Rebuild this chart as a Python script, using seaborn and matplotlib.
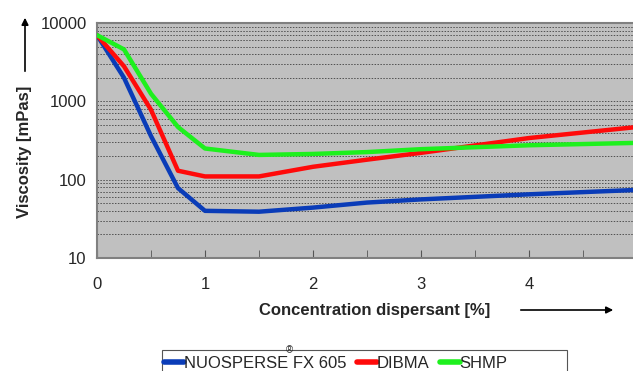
import matplotlib
matplotlib.use("Agg")
import matplotlib.pyplot as plt
import matplotlib.ticker as mticker
from matplotlib.patches import FancyArrowPatch, Rectangle
import pandas as pd
import seaborn as sns

# concentration dispersant [%]
conc = [0, 0.25, 0.5, 0.75, 1.0, 1.5, 2.0, 2.5, 3.0, 4.0, 5.0]

# viscosity [mPas] per dispersant
nuosperse = [7000, 2000, 360, 78, 40, 39, 44, 51, 56, 65, 74]
dibma = [7000, 2800, 780, 130, 110, 110, 146, 180, 220, 340, 470]
shmp = [7000, 4600, 1250, 470, 250, 207, 213, 225, 245, 275, 295]

series_names = ["NUOSPERSE FX 605", "DIBMA", "SHMP"]
series_colors = ["#0a3cb8", "#ff0a0a", "#1ef01e"]

rows = []
for name, vals in zip(series_names, [nuosperse, dibma, shmp]):
    for x, v in zip(conc, vals):
        rows.append({"conc": x, "viscosity": v, "series": name})
df = pd.DataFrame(rows)

sns.set_style("white")
plt.rcParams["font.family"] = ["Liberation Sans", "DejaVu Sans"]

fig = plt.figure(figsize=(6.33, 3.71), dpi=100)
ax = fig.add_axes([97 / 633, 1 - 258 / 371, 540 / 633, 235 / 371])
ax.set_facecolor("#c0c0c0")

sns.lineplot(data=df, x="conc", y="viscosity", hue="series", palette=series_colors,
             hue_order=series_names, estimator=None, sort=True, linewidth=3.2,
             ax=ax, zorder=3)

ax.set_yscale("log")
ax.set_ylim(10, 10000)
ax.set_xlim(0, 5)
ax.xaxis.set_major_locator(mticker.MultipleLocator(1))
ax.xaxis.set_minor_locator(mticker.MultipleLocator(0.5))
ax.xaxis.set_major_formatter(mticker.FormatStrFormatter("%d"))
ax.yaxis.set_major_formatter(mticker.FuncFormatter(lambda v, p: f"{int(v)}"))
ax.yaxis.set_minor_formatter(mticker.NullFormatter())
ax.yaxis.set_minor_locator(mticker.LogLocator(base=10, subs=range(2, 10)))

ax.grid(True, axis="y", which="both", color="#505050", linestyle=(0, (1.5, 1.5)), linewidth=0.7)
ax.set_axisbelow(True)
ax.tick_params(axis="x", which="both", direction="in", length=6, color="#555555",
               labelsize=12, pad=14, bottom=True)
ax.tick_params(axis="y", which="both", left=False, labelsize=12, pad=4)

for side in ["left", "bottom", "top"]:
    ax.spines[side].set_color("#808080")
    ax.spines[side].set_linewidth(1.5)
ax.spines["right"].set_visible(False)

ax.set_xlabel("")
ax.set_ylabel("")

fig.text(375 / 633, 1 - 310 / 371, "Concentration dispersant [%]", fontsize=12,
         fontweight="bold", ha="center", va="center")
fig.text(25 / 633, 1 - 152 / 371, "Viscosity [mPas]", fontsize=12, fontweight="bold",
         ha="center", va="center", rotation=90)
fig.add_artist(FancyArrowPatch(
    (518 / 633, 1 - 310 / 371), (616 / 633, 1 - 310 / 371), transform=fig.transFigure,
    arrowstyle="-|>", mutation_scale=10, color="black", linewidth=1.2))
fig.add_artist(FancyArrowPatch(
    (25 / 633, 1 - 74 / 371), (25 / 633, 1 - 15 / 371), transform=fig.transFigure,
    arrowstyle="-|>", mutation_scale=10, color="black", linewidth=1.2))

# legend: frame drawn separately, cut by the bottom edge like the reference
fig.add_artist(Rectangle((162 / 633, -0.05), 405 / 633, 0.05 + 21 / 371,
                         transform=fig.transFigure, facecolor="white",
                         edgecolor="#555555", linewidth=0.8, zorder=-1))
handles, labels = ax.get_legend_handles_labels()
leg = ax.legend(handles, labels, ncol=3, loc="center left",
                bbox_to_anchor=(161 / 633, 1 - 363 / 371), bbox_transform=fig.transFigure,
                frameon=False, fontsize=12, handlelength=1.2, handletextpad=0.0,
                columnspacing=0.6, borderpad=0.2, borderaxespad=0)
for line in leg.get_lines():
    line.set_linewidth(4)
fig.text(289 / 633, 1 - 350 / 371, "\u00ae", fontsize=7, ha="center", va="center")

fig.savefig("out.png", dpi=100)
